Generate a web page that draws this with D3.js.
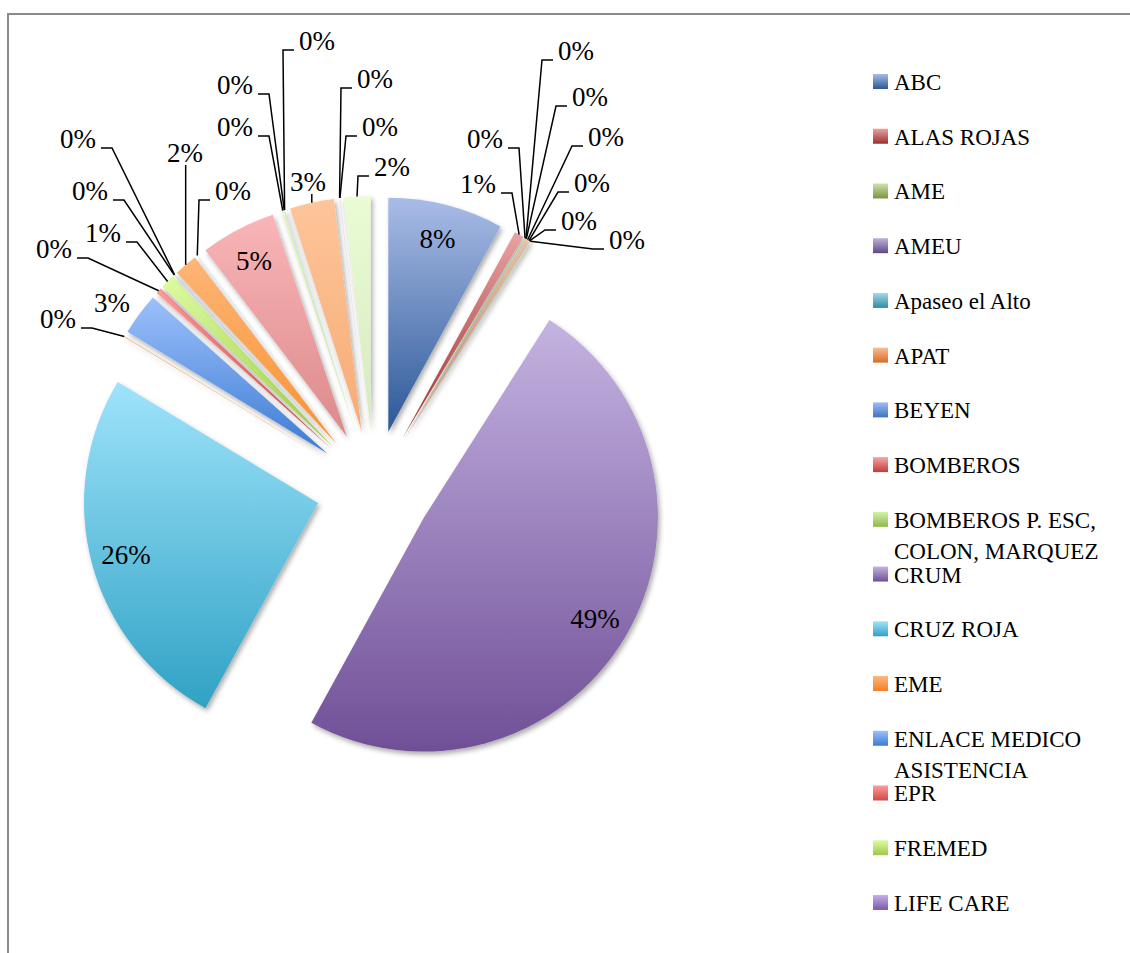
<!DOCTYPE html>
<html>
<head>
<meta charset="utf-8">
<script src="https://cdn.jsdelivr.net/npm/d3@7"></script>
<style>
  html, body { margin: 0; padding: 0; background: #ffffff; }
  svg { display: block; }
</style>
</head>
<body>
<script>
// ---------------- DATA ----------------
// Slice names in drawing order (clockwise from 12 o'clock). The legend in the
// original is truncated after "LIFE CARE"; the remaining names are not visible.
const categories = [
  "ABC", "ALAS ROJAS", "AME", "AMEU", "Apaseo el Alto", "APAT", "BEYEN",
  "BOMBEROS", "BOMBEROS P. ESC, COLON, MARQUEZ", "CRUM", "CRUZ ROJA", "EME",
  "ENLACE MEDICO ASISTENCIA", "EPR", "FREMED", "LIFE CARE",
  "(no visible 17)", "(no visible 18)", "(no visible 19)", "(no visible 20)",
  "(no visible 21)", "(no visible 22)", "(no visible 23)", "(no visible 24)",
  "(no visible 25)", "(no visible 26)", "(no visible 27)"
];
// Estimated share of each slice (percent).
const values = [
  7.95, 0.65, 0.10, 0.02, 0.02, 0.15, 0.02, 0.05, 0.05,
  48.95, 25.65, 0.05, 2.9, 0.4, 1.0, 0.02,
  0.02, 1.6, 0.02, 5.2, 0.15, 0.02, 0.02, 3.05, 0.02, 0.02, 1.85
];

// ---------------- STYLE ----------------
const colorTop = [
  "#a9bce6", "#e8a3a2", "#cde3ac", "#c0b2d8", "#a7d9ea", "#fbbd94", "#9dbdf6",
  "#f6a5a5", "#d4f2a9", "#c4b3e1", "#9fe3fb", "#fcb87d", "#9cc0fb", "#fe9b9b",
  "#ddfca1", "#c5b0eb", "#a9eeff", "#fdb577", "#b0cdfc", "#f9b5b8", "#e2fbb8",
  "#d6c8f0", "#bff0fd", "#fdc59a", "#c5dafc", "#fbc8c8", "#ebfcd4"
];
const colorBottom = [
  "#2c5897", "#9c2f2d", "#77953f", "#5e4889", "#2f8aa5", "#d66d24", "#3f73bd",
  "#c43a3a", "#8fb94a", "#704f97", "#30a2c4", "#f27f26", "#3c7bd3", "#d44848",
  "#9cc947", "#7b58a8", "#56c4e0", "#f8922f", "#6b9be0", "#dc8a8a", "#bde07a",
  "#a08bc5", "#86d2e8", "#f7ab75", "#98b8e8", "#e8a8a8", "#d5e9c0"
];

// Annotation placement for outside labels (label centre relative to pie centre, px);
// null = label drawn inside the slice.
const labelOffsets = [
  null, [104, -304], [111, -349], [202, -437], [216, -391], [232, -351],
  [218, -305], [205, -267], [253, -248], null, null, [-316, -169],
  [-262, -185], [-320, -239], [-271, -255], [-284, -297], [-296, -349],
  [-189, -335], [-141, -297], null, [-139, -361], [-139, -403], [-57, -447],
  [-66, -306], [1, -409], [6, -361], [18, -321]
];

// ---------------- LAYOUT ----------------
const W = 1130, H = 953;
const CX = 374, CY = 488, R = 234, EXPLODE = 58;
const FONT = "'Liberation Serif', 'Times New Roman', serif";
const LABEL_SIZE = 27, LEGEND_SIZE = 23;

const svg = d3.select("body").append("svg")
  .attr("width", W).attr("height", H)
  .attr("viewBox", `0 0 ${W} ${H}`);

const defs = svg.append("defs");
colorTop.forEach((c, i) => {
  const g = defs.append("linearGradient").attr("id", "grad" + i)
    .attr("x1", 0).attr("y1", 0).attr("x2", 0).attr("y2", 1);
  g.append("stop").attr("offset", "0%").attr("stop-color", c);
  g.append("stop").attr("offset", "100%").attr("stop-color", colorBottom[i]);
});
const filt = defs.append("filter").attr("id", "shadow")
  .attr("filterUnits", "userSpaceOnUse")
  .attr("x", -400).attr("y", -400).attr("width", 800).attr("height", 800);
filt.append("feDropShadow").attr("dx", 2).attr("dy", 3)
  .attr("stdDeviation", 2.5).attr("flood-color", "#000").attr("flood-opacity", 0.33);

// Frame (plot area outline: top and left edge visible)
svg.append("path")
  .attr("d", `M8,${H} V14 H${W}`)
  .attr("fill", "none").attr("stroke", "#8a8a8a").attr("stroke-width", 2);

const pie = d3.pie().sort(null).value(d => d)(values);
const arc = d3.arc().innerRadius(0).outerRadius(R);
const dir = a => [Math.sin(a), -Math.cos(a)];
const total = d3.sum(values);
const fmt = d3.format(".0%");

const gPie = svg.append("g").attr("transform", `translate(${CX},${CY})`);

pie.forEach((p, i) => {
  const mid = (p.startAngle + p.endAngle) / 2;
  const [ux, uy] = dir(mid);
  gPie.append("path")
    .attr("d", arc(p))
    .attr("transform", `translate(${ux * EXPLODE},${uy * EXPLODE})`)
    .attr("fill", `url(#grad${i})`)
    .attr("filter", "url(#shadow)");
});

// Labels
const gLab = svg.append("g").attr("font-family", FONT)
  .attr("font-size", LABEL_SIZE).attr("fill", "#000");

pie.forEach((p, i) => {
  const mid = (p.startAngle + p.endAngle) / 2;
  const [ux, uy] = dir(mid);
  const apexX = CX + ux * EXPLODE, apexY = CY + uy * EXPLODE;
  const txt = fmt(values[i] / total);
  const off = labelOffsets[i];
  let lx, ly;
  if (!off) {
    lx = apexX + ux * R * 0.85;
    ly = apexY + uy * R * 0.85;
  } else {
    lx = CX + off[0];
    ly = CY + off[1];
  }
  const base = ly + 9;
  const t = gLab.append("text")
    .attr("x", lx).attr("y", base)
    .attr("text-anchor", "middle")
    .text(txt);
  if (!off) return;
  const bw = t.node().getComputedTextLength();
  const left = lx - bw / 2, right = lx + bw / 2, top = base - 18;
  // leader target: outer arc at mid-angle of exploded slice
  const tx = apexX + ux * R, ty = apexY + uy * R;
  const gap = 5, len = 11;
  let pts = null;
  if (tx >= left && tx <= right) {
    if (ty - base > 4) pts = [[tx, base + 3], [tx, ty]];
  } else {
    const dx = tx > right ? tx - right : left - tx;
    const dy = ty > base ? ty - base : (ty < top ? top - ty : 0);
    if (Math.hypot(dx, dy) > 12) {
      if (tx > right) pts = [[right + gap, base], [right + gap + len, base], [tx, ty]];
      else pts = [[left - gap, base], [left - gap - len, base], [tx, ty]];
    }
  }
  if (pts) {
    gLab.append("path")
      .attr("d", d3.line()(pts))
      .attr("fill", "none").attr("stroke", "#000").attr("stroke-width", 1.5);
  }
});

// Legend
const gLeg = svg.append("g").attr("font-family", FONT)
  .attr("font-size", LEGEND_SIZE).attr("fill", "#000");
const LEG_X = 873, LEG_TEXT_X = 894, LEG_BASE = 90, LEG_STEP = 54.73, LEG_MAXW = 235;
categories.forEach((name, i) => {
  const y = LEG_BASE + i * LEG_STEP;
  if (y > H - 15) return;
  gLeg.append("rect")
    .attr("x", LEG_X).attr("y", y - 16)
    .attr("width", 15).attr("height", 15)
    .attr("fill", `url(#grad${i})`);
  const text = gLeg.append("text").attr("x", LEG_TEXT_X).attr("y", y);
  // word wrap
  const words = name.split(" ");
  const lines = [];
  let cur = "";
  const probe = gLeg.append("text").attr("visibility", "hidden");
  words.forEach(w => {
    const test = cur ? cur + " " + w : w;
    probe.text(test);
    if (probe.node().getComputedTextLength() > LEG_MAXW && cur) {
      lines.push(cur);
      cur = w;
    } else cur = test;
  });
  lines.push(cur);
  probe.remove();
  lines.forEach((ln, k) => {
    text.append("tspan").attr("x", LEG_TEXT_X).attr("dy", k === 0 ? 0 : 31).text(ln);
  });
});
</script>
</body>
</html>
